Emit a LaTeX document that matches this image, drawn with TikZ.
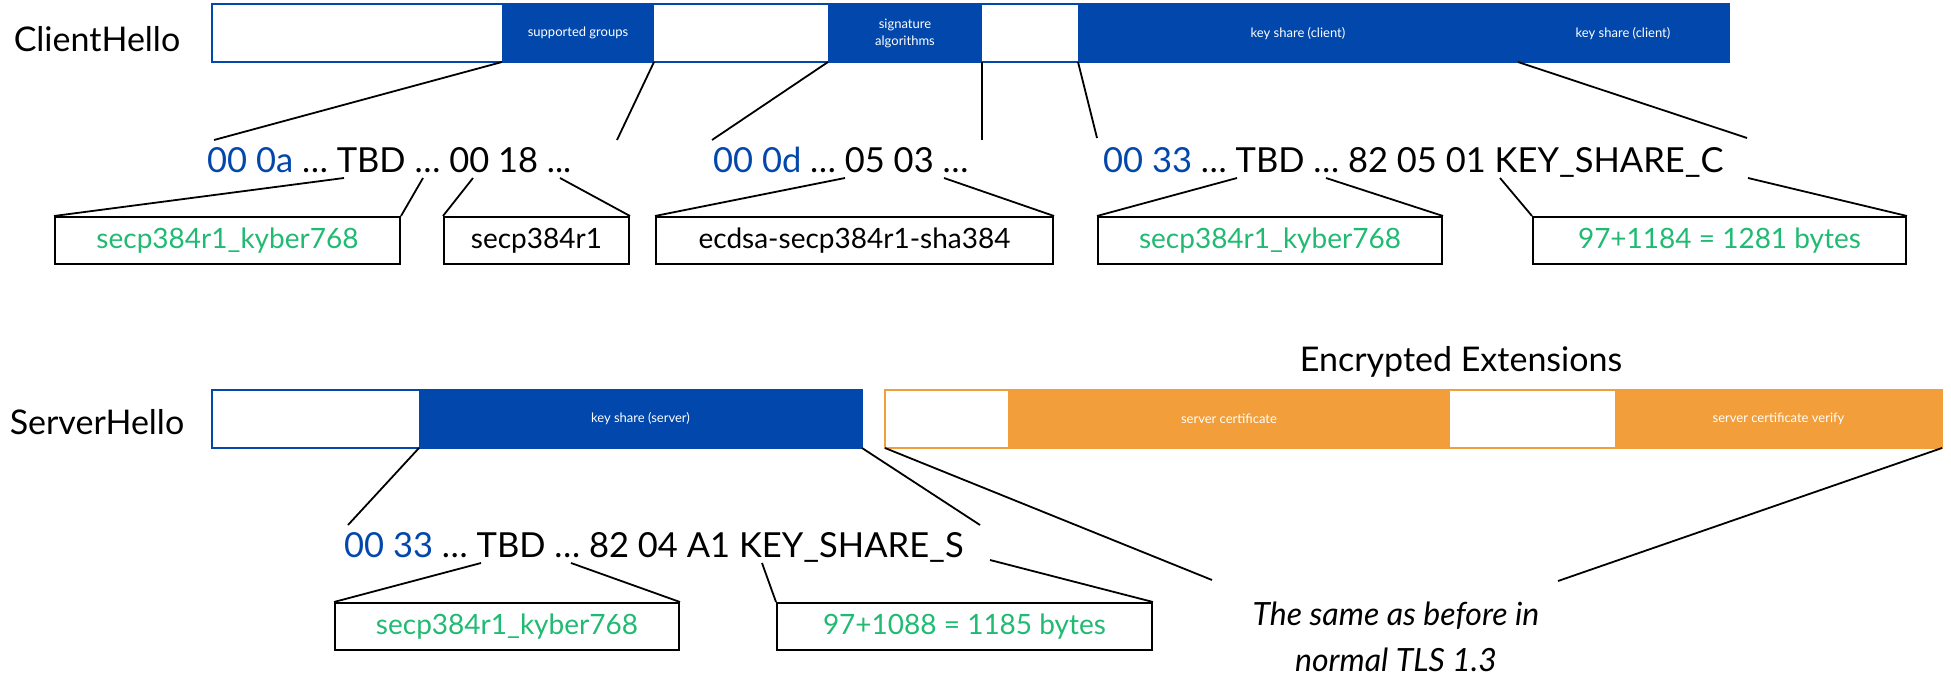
\documentclass[tikz,border=0pt]{standalone}
\usepackage{fontspec}
\setmainfont{Lato}
\definecolor{tlsblue}{RGB}{2,71,171}
\definecolor{tlsorange}{RGB}{242,158,58}
\definecolor{tlsgreen}{RGB}{33,186,114}
\begin{document}
\begin{tikzpicture}[x=1pt,y=-1pt,
  seg/.style={inner sep=0pt, outer sep=0pt, anchor=north west, text=white, font=\fontsize{13}{17}\selectfont, align=center, minimum height=58pt},
  wseg/.style={seg, fill=white},
  bseg/.style={seg, fill=tlsblue},
  oseg/.style={seg, fill=tlsorange},
  seglbl/.style={inner sep=0pt, text=white, font=\fontsize{13}{17}\selectfont},
  lbl/.style={font=\fontsize{34}{40}\selectfont, inner sep=0pt},
  hex/.style={font=\fontsize{34.5}{40}\selectfont, inner sep=0pt, anchor=base west},
  valbox/.style={draw=black, line width=2pt, inner sep=0pt, anchor=north west, font=\fontsize{28}{32}\selectfont, minimum height=47pt},
  conn/.style={draw=black, line width=1.8pt}
]
\useasboundingbox (0,0) rectangle (1951,677);

% ---------- ClientHello ----------
\node[lbl] (ch) at (97,39) {ClientHello};
\node[wseg, minimum width=290pt] (c1) at (212,4) {};
\node[bseg, minimum width=152pt] (c2) at (502,4) {supported groups};
\node[wseg, minimum width=174pt] (c3) at (654,4) {};
\node[bseg, minimum width=154pt] (c4) at (828,4) {signature\\algorithms};
\node[wseg, minimum width=96pt] (c5) at (982,4) {};
\node[bseg, minimum width=651pt] (c6) at (1078,4) {};
\node[seglbl] (k1) at (1298,34) {key share (client)};
\node[seglbl] (k2) at (1623,34) {key share (client)};
\draw[tlsblue, line width=1.5pt] (c1.north west) rectangle (c6.south east);

\node[hex] (h1) at (207,172) {{\color{tlsblue}00 0a} … TBD … 00 18 ...};
\node[hex] (h2) at (713,172) {{\color{tlsblue}00 0d} … 05 03 …};
\node[hex] (h3) at (1103,172) {{\color{tlsblue}00 33} … TBD … 82 05 01 KEY\_SHARE\_C};

\node[valbox, text=tlsgreen, minimum width=345pt] (b1) at (54,216) {secp384r1\_kyber768};
\node[valbox, minimum width=185pt] (b2) at (443,216) {secp384r1};
\node[valbox, minimum width=397pt] (b3) at (655,216) {ecdsa-secp384r1-sha384};
\node[valbox, text=tlsgreen, minimum width=344pt] (b4) at (1097,216) {secp384r1\_kyber768};
\node[valbox, text=tlsgreen, minimum width=373pt] (b5) at (1532,216) {97+1184 = 1281 bytes};

% bar -> hex
\coordinate (p1) at (214,140);
\coordinate (p2) at (617,140);
\coordinate (p3) at (712,140);
\coordinate (p4) at (982,140);
\coordinate (p5) at (1097,138);
\coordinate (p6) at (1747,138);
\coordinate (ks) at (1518,62);
\draw[conn] (c2.south west) -- (p1);
\draw[conn] (c2.south east) -- (p2);
\draw[conn] (c4.south west) -- (p3);
\draw[conn] (c4.south east) -- (p4);
\draw[conn] (c6.south west) -- (p5);
\draw[conn] (ks) -- (p6);

% hex -> boxes
\coordinate (q1) at (344,178);
\coordinate (q2) at (423,178);
\coordinate (q3) at (473,178);
\coordinate (q4) at (560,178);
\coordinate (q5) at (845,178);
\coordinate (q6) at (944,178);
\coordinate (q7) at (1237,178);
\coordinate (q8) at (1326,178);
\coordinate (q9) at (1500,178);
\coordinate (q10) at (1748,178);
\draw[conn] (q1) -- (b1.north west);
\draw[conn] (q2) -- (b1.north east);
\draw[conn] (q3) -- (b2.north west);
\draw[conn] (q4) -- (b2.north east);
\draw[conn] (q5) -- (b3.north west);
\draw[conn] (q6) -- (b3.north east);
\draw[conn] (q7) -- (b4.north west);
\draw[conn] (q8) -- (b4.north east);
\draw[conn] (q9) -- (b5.north west);
\draw[conn] (q10) -- (b5.north east);

% ---------- ServerHello ----------
\node[lbl] (sh) at (97,422) {ServerHello};
\node[wseg, minimum width=207pt] (s1) at (212,390) {};
\node[bseg, minimum width=443pt] (s2) at (419,390) {key share (server)};
\draw[tlsblue, line width=1.5pt] (s1.north west) rectangle (s2.south east);

\node[lbl] (ee) at (1461,362) {Encrypted Extensions};
\node[wseg, minimum width=123pt] (o1) at (885,390) {};
\node[oseg, minimum width=442pt] (o2) at (1008,390) {server certificate};
\node[wseg, minimum width=165pt] (o3) at (1450,390) {};
\node[oseg, minimum width=327pt] (o4) at (1615,390) {server certificate verify};
\draw[tlsorange, line width=1.5pt] (o1.north west) rectangle (o4.south east);

\node[hex] (h4) at (344,557) {{\color{tlsblue}00 33} … TBD … 82 04 A1 KEY\_SHARE\_S};

\node[valbox, text=tlsgreen, minimum width=344pt] (d1) at (334,602) {secp384r1\_kyber768};
\node[valbox, text=tlsgreen, minimum width=375pt] (d2) at (776,602) {97+1088 = 1185 bytes};

\node[font=\fontsize{32}{46}\selectfont\itshape, align=center, inner sep=0pt] (same) at (1396,637) {The same as before in\\normal TLS 1.3};

\coordinate (r1) at (348,525);
\coordinate (r2) at (980,525);
\coordinate (r3) at (481,563);
\coordinate (r4) at (571,563);
\coordinate (r5) at (762,563);
\coordinate (r6) at (990,560);
\coordinate (r7) at (1212,580);
\coordinate (r8) at (1558,581);
\draw[conn] (s2.south west) -- (r1);
\draw[conn] (s2.south east) -- (r2);
\draw[conn] (r3) -- (d1.north west);
\draw[conn] (r4) -- (d1.north east);
\draw[conn] (r5) -- (d2.north west);
\draw[conn] (r6) -- (d2.north east);
\draw[conn] (o1.south west) -- (r7);
\draw[conn] (o4.south east) -- (r8);
\end{tikzpicture}
\end{document}
